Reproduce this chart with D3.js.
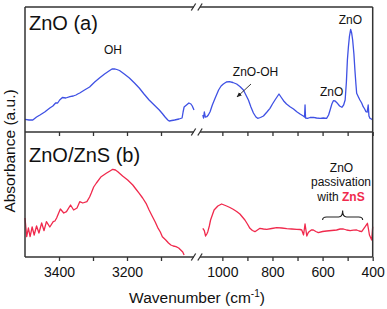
<!DOCTYPE html>
<html>
<head>
<meta charset="utf-8">
<script src="https://cdn.jsdelivr.net/npm/d3@7"></script>
<style>
  body { margin: 0; background: #fff; }
  svg { display: block; font-family: "Liberation Sans", Arial, sans-serif; }
</style>
</head>
<body>
<script>
// spectrum (a) ZnO, [wavenumber, absorbance a.u.]
var zno_high = [[3500,0.127],[3488,0.12],[3477,0.12],[3466,0.15],[3456,0.17],[3442,0.2],[3427,0.24],[3418,0.26],[3410,0.29],[3404,0.29],[3398,0.32],[3390,0.345],[3380,0.34],[3368,0.353],[3358,0.36],[3350,0.37],[3345,0.38],[3339,0.39],[3325,0.42],[3310,0.45],[3295,0.5],[3281,0.54],[3266,0.58],[3252,0.613],[3244,0.63],[3237,0.632],[3230,0.625],[3222,0.615],[3208,0.58],[3193,0.54],[3178,0.49],[3164,0.44],[3150,0.38],[3135,0.32],[3120,0.27],[3105,0.22],[3095,0.18],[3088,0.15],[3080,0.12],[3076,0.11],[3068,0.115],[3060,0.12],[3047,0.13],[3038,0.14],[3035,0.2],[3032,0.25],[3025,0.27],[3018,0.29],[3012,0.28],[3008,0.26],[3003,0.22]];
var zno_low = [[1078,0.17],[1075,0.14],[1072,0.2],[1068,0.15],[1062,0.153],[1056,0.17],[1049,0.203],[1040,0.27],[1029,0.337],[1015,0.42],[1005,0.46],[996,0.48],[984,0.5],[972,0.503],[958,0.495],[943,0.48],[930,0.455],[916,0.42],[906,0.37],[896,0.32],[886,0.25],[876,0.19],[866,0.15],[859,0.137],[848,0.145],[836,0.16],[822,0.2],[810,0.237],[800,0.28],[790,0.32],[782,0.35],[774,0.38],[766,0.35],[756,0.313],[744,0.28],[730,0.253],[716,0.23],[703,0.203],[690,0.18],[677,0.16],[672,0.15],[670,0.27],[668,0.14],[660,0.137],[650,0.145],[637,0.147],[624,0.14],[610,0.137],[597,0.14],[584,0.137],[576,0.17],[570,0.22],[563,0.28],[557,0.313],[550,0.31],[543,0.293],[532,0.26],[523,0.247],[516,0.27],[510,0.32],[505,0.5],[501,0.72],[497,0.85],[493,0.953],[488,1.027],[484,0.99],[480,0.92],[475,0.78],[471,0.62],[467,0.48],[464,0.387],[457,0.35],[451,0.32],[444,0.29],[438,0.253],[432,0.23],[427,0.203],[422,0.2],[418,0.27],[415,0.16],[411,0.137],[405,0.13],[400,0.12]];

// spectrum (b) ZnO/ZnS
var zns_high = [[3500,0.39],[3497,0.28],[3495,0.203],[3490,0.29],[3485,0.203],[3479,0.3],[3473,0.22],[3466,0.31],[3459,0.24],[3451,0.34],[3444,0.263],[3437,0.353],[3427,0.3],[3417,0.353],[3412,0.36],[3407,0.39],[3396,0.48],[3386,0.44],[3378,0.453],[3366,0.52],[3357,0.47],[3347,0.49],[3339,0.553],[3330,0.54],[3318,0.553],[3310,0.6],[3305,0.64],[3298,0.7],[3290,0.74],[3276,0.803],[3261,0.837],[3250,0.86],[3242,0.877],[3234,0.87],[3227,0.853],[3213,0.81],[3198,0.77],[3183,0.72],[3174,0.68],[3164,0.637],[3154,0.59],[3144,0.537],[3135,0.47],[3125,0.403],[3117,0.35],[3110,0.297],[3102,0.25],[3096,0.203],[3086,0.17],[3078,0.14],[3071,0.12],[3064,0.11],[3056,0.103],[3048,0.09],[3042,0.07],[3036,0.05],[3032,0.02]];
var zns_low = [[1078,0.287],[1072,0.263],[1067,0.21],[1062,0.23],[1058,0.253],[1052,0.31],[1047,0.37],[1040,0.42],[1033,0.47],[1018,0.51],[1003,0.53],[993,0.52],[983,0.51],[970,0.495],[957,0.477],[943,0.455],[930,0.43],[920,0.4],[910,0.37],[900,0.33],[890,0.287],[880,0.265],[870,0.253],[860,0.27],[850,0.287],[836,0.28],[823,0.277],[803,0.285],[783,0.293],[763,0.29],[743,0.283],[723,0.28],[703,0.277],[690,0.275],[683,0.27],[676,0.22],[670,0.33],[663,0.21],[658,0.24],[654,0.253],[645,0.27],[637,0.27],[627,0.255],[617,0.243],[600,0.255],[584,0.26],[564,0.265],[544,0.27],[530,0.28],[517,0.28],[504,0.27],[490,0.263],[477,0.268],[464,0.27],[454,0.26],[444,0.253],[430,0.303],[421,0.337],[417,0.28],[413,0.22],[404,0.17],[400,0.303]];

// axis ticks
var ticksHigh = [3400, 3300, 3200, 3100];
var ticksLow = [1000, 900, 800, 700, 600, 500, 400];
var labelsShown = [3400, 3200, 1000, 800, 600, 400];

var width = 387, height = 309;
var leftX = 25, rightX = 372.7, topY = 7, midY = 132, bottomY = 257;
var gapL = 195, gapR = 197.3;

var svg = d3.select("body").append("svg")
    .attr("width", width)
    .attr("height", height);

// scales, broken x axis
var xHigh = d3.scaleLinear().domain([3500, 3000]).range([leftX, gapL]);
var xLow = d3.scaleLinear().domain([1100, 400]).range([gapR, rightX]);
var yA = d3.scaleLinear().domain([0, 1.25]).range([midY, topY]);
var yB = d3.scaleLinear().domain([0, 1.25]).range([bottomY, midY]);

var axisColor = "#333";
var blue = "#3f51e4";
var red = "#f0294c";

function drawLine(data, x, y, color) {
    var line = d3.line()
        .x(function(d) { return x(d[0]); })
        .y(function(d) { return y(d[1]); });
    svg.append("path")
        .datum(data)
        .attr("d", line)
        .style("fill", "none")
        .style("stroke", color)
        .style("stroke-width", 1.3)
        .style("stroke-linejoin", "round");
}

drawLine(zno_high, xHigh, yA, blue);
drawLine(zno_low, xLow, yA, blue);
drawLine(zns_high, xHigh, yB, red);
drawLine(zns_low, xLow, yB, red);

// ticks on middle line (down) and bottom axis (outward)
function ticks(yPos, showLabels) {
    var fmt = function(d) { return showLabels && labelsShown.indexOf(d) >= 0 ? d : ""; };
    var g1 = svg.append("g")
        .attr("transform", "translate(0," + yPos + ")")
        .call(d3.axisBottom(xHigh).tickValues(ticksHigh).tickSize(4).tickPadding(6).tickFormat(fmt));
    var g2 = svg.append("g")
        .attr("transform", "translate(0," + yPos + ")")
        .call(d3.axisBottom(xLow).tickValues(ticksLow).tickSize(4).tickPadding(6).tickFormat(fmt));
    [g1, g2].forEach(function(g) {
        g.select(".domain").remove();
        g.selectAll(".tick line").attr("stroke", axisColor).attr("stroke-width", 1.3);
        g.selectAll(".tick text")
            .attr("fill", "#111")
            .style("font-size", "14px")
            .style("font-family", "'Liberation Sans', Arial, sans-serif");
    });
}
ticks(midY, false);
ticks(bottomY, true);

// frame
function hline(y) {
    svg.append("line").attr("x1", leftX).attr("x2", 194).attr("y1", y).attr("y2", y)
        .attr("stroke", axisColor).attr("stroke-width", 1.5);
    svg.append("line").attr("x1", 200).attr("x2", rightX).attr("y1", y).attr("y2", y)
        .attr("stroke", axisColor).attr("stroke-width", 1.5);
    // break marks
    [193.5, 200].forEach(function(cx) {
        svg.append("line")
            .attr("x1", cx - 2.2).attr("y1", y + 3.5)
            .attr("x2", cx + 2.2).attr("y2", y - 3.5)
            .attr("stroke", axisColor).attr("stroke-width", 1.3);
    });
}
hline(topY);
hline(midY);
hline(bottomY);
svg.append("line").attr("x1", leftX).attr("x2", leftX).attr("y1", topY).attr("y2", bottomY)
    .attr("stroke", axisColor).attr("stroke-width", 1.5);
svg.append("line").attr("x1", rightX).attr("x2", rightX).attr("y1", topY).attr("y2", bottomY)
    .attr("stroke", axisColor).attr("stroke-width", 1.5);

// panel labels
svg.append("text").attr("x", 29).attr("y", 30)
    .style("font-size", "20px").attr("fill", "#111").text("ZnO (a)");
svg.append("text").attr("x", 29).attr("y", 161.5)
    .style("font-size", "20px").attr("fill", "#111").text("ZnO/ZnS (b)");

// axis titles
var xt = svg.append("text")
    .attr("x", 197).attr("y", 303)
    .attr("text-anchor", "middle")
    .style("font-size", "15.5px").attr("fill", "#111");
xt.append("tspan").text("Wavenumber (cm");
xt.append("tspan").attr("dy", -6).style("font-size", "10px").text("-1");
xt.append("tspan").attr("dy", 6).text(")");

svg.append("text")
    .attr("transform", "translate(15,151) rotate(-90)")
    .attr("text-anchor", "middle")
    .style("font-size", "15.5px").attr("fill", "#111")
    .text("Absorbance (a.u.)");

// annotations
function note(x, y, txt) {
    return svg.append("text").attr("x", x).attr("y", y)
        .attr("text-anchor", "middle")
        .style("font-size", "12px").attr("fill", "#111").text(txt);
}
note(113, 54, "OH");
note(255.5, 76, "ZnO-OH");
note(331.7, 96, "ZnO");
note(350.3, 24, "ZnO");

svg.append("defs").append("marker")
    .attr("id", "arr").attr("viewBox", "0 0 10 10")
    .attr("refX", 9).attr("refY", 5)
    .attr("markerWidth", 6).attr("markerHeight", 6)
    .attr("orient", "auto")
    .append("path").attr("d", "M0,1L10,5L0,9Z").attr("fill", "#222");
svg.append("line")
    .attr("x1", 251).attr("y1", 84).attr("x2", 237).attr("y2", 97)
    .attr("stroke", "#222").attr("stroke-width", 0.9)
    .attr("marker-end", "url(#arr)");

note(341.5, 171.7, "ZnO");
note(341, 186, "passivation");
var w = note(341, 200.5, "with ");
w.append("tspan").attr("fill", red).style("font-weight", "bold").text("ZnS");

// brace over 600-440 cm-1
var b0 = xLow(600), b1 = xLow(440), bm = (b0 + b1) / 2;
svg.append("path")
    .attr("d", "M" + b0 + ",220 Q" + b0 + ",217 " + (b0 + 4) + ",217 L" + (bm - 4) + ",217 Q" + bm + ",217 " + bm + ",210.5"
        + " Q" + bm + ",217 " + (bm + 4) + ",217 L" + (b1 - 4) + ",217 Q" + b1 + ",217 " + b1 + ",220")
    .attr("fill", "none").attr("stroke", "#222").attr("stroke-width", 1.1);
</script>
</body>
</html>
